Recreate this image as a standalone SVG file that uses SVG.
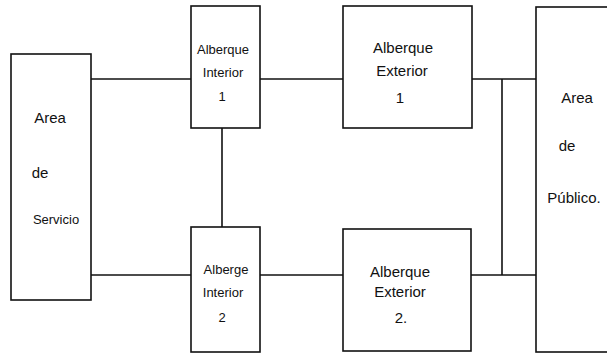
<svg xmlns="http://www.w3.org/2000/svg" width="607" height="355" viewBox="0 0 607 355">
<style>
.box{fill:none;stroke:#111;stroke-width:1.6}
.ln{stroke:#111;stroke-width:1.6;fill:none}
text{font-family:"Liberation Sans",Arial,sans-serif;font-size:13px;fill:#111;text-anchor:middle}
.big{font-size:15px}
</style>
<rect width="607" height="355" fill="#fff"/>
<g id="connectors">
<line class="ln" x1="91" y1="79" x2="191" y2="79"/>
<line class="ln" x1="91" y1="275" x2="191" y2="275"/>
<line class="ln" x1="222" y1="128" x2="222" y2="227"/>
<line class="ln" x1="260" y1="79" x2="343" y2="79"/>
<line class="ln" x1="260" y1="275" x2="343" y2="275"/>
<line class="ln" x1="472" y1="79" x2="536" y2="79"/>
<line class="ln" x1="471" y1="275" x2="536" y2="275"/>
<line class="ln" x1="502" y1="79" x2="502" y2="275"/>
</g>
<g id="area-servicio">
<rect class="box" x="11" y="54" width="80" height="246"/>
<text class="big" x="50" y="123">Area</text>
<text class="big" x="40" y="178">de</text>
<text x="56" y="224">Servicio</text>
</g>
<g id="albergue-interior-1">
<rect class="box" x="191" y="6" width="69" height="122"/>
<text x="223" y="54">Alberque</text>
<text x="223" y="77">Interior</text>
<text x="222" y="101">1</text>
</g>
<g id="albergue-interior-2">
<rect class="box" x="191" y="227" width="69" height="125"/>
<text x="226" y="274">Alberge</text>
<text x="223" y="297">Interior</text>
<text x="222" y="322">2</text>
</g>
<g id="albergue-exterior-1">
<rect class="box" x="343" y="6" width="129" height="122"/>
<text class="big" x="403" y="53">Alberque</text>
<text class="big" x="402" y="76">Exterior</text>
<text class="big" x="400" y="103">1</text>
</g>
<g id="albergue-exterior-2">
<rect class="box" x="343" y="229" width="128" height="122"/>
<text class="big" x="400" y="277">Alberque</text>
<text class="big" x="400" y="297">Exterior</text>
<text class="big" x="401" y="323">2.</text>
</g>
<g id="area-publico">
<rect class="box" x="536" y="7" width="80" height="345"/>
<text class="big" x="577" y="103">Area</text>
<text class="big" x="567" y="151">de</text>
<text class="big" x="574" y="203">Público.</text>
</g>
</svg>
